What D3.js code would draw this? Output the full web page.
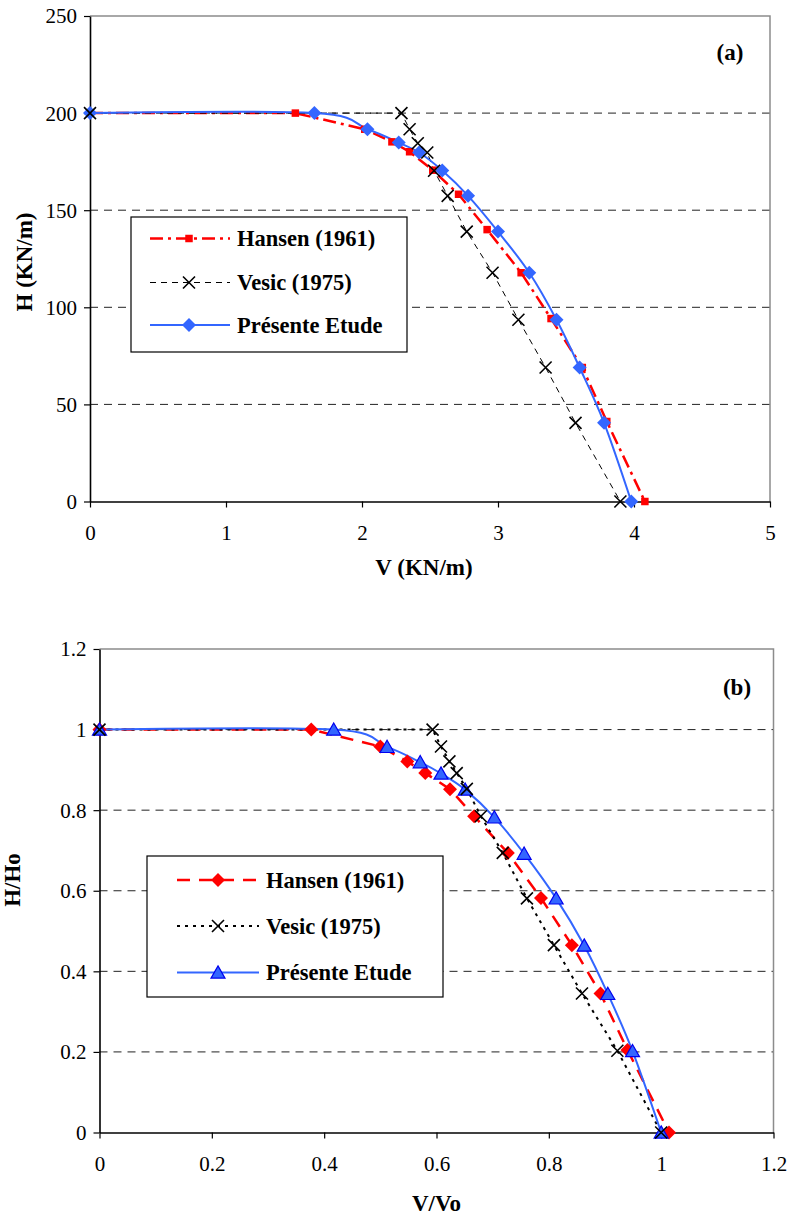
<!DOCTYPE html>
<html><head><meta charset="utf-8">
<script src="https://cdn.jsdelivr.net/npm/d3@7"></script>
<style>body{margin:0;background:#fff}svg{display:block}</style>
</head><body>
<svg id="c" width="793" height="1218"></svg>
<script>
// ---------- Data chart (a) ----------
const hansenA_V  = [0,1.51,2.02,2.22,2.35,2.52,2.71,2.92,3.17,3.39,3.62,3.80,4.08];
const hansenA_H  = [200,200,191.7,185.2,180.1,170.6,158.2,140,117.8,94.2,69,41.2,0];
const vesicA_V   = [0,2.29,2.35,2.41,2.48,2.53,2.63,2.77,2.96,3.15,3.35,3.57,3.90];
const vesicA_H   = [200,200,191.7,184.5,179.7,170.3,157.4,139,117.8,93.6,69,40.5,0];
const presentA_V = [0,1.65,2.04,2.27,2.42,2.59,2.78,3.00,3.23,3.43,3.60,3.78,3.98];
const presentA_H = [200,200,191.7,184.8,179.7,170.4,157.4,139,117.8,93.6,69,40.5,0];
const ticksA_X = [0,1,2,3,4,5];
const ticksA_Y = [0,50,100,150,200,250];

// ---------- Data chart (b) ----------
const hansenB_x  = [0,0.377,0.50,0.548,0.58,0.624,0.667,0.727,0.786,0.841,0.892,0.94,1.014];
const hansenB_y  = [1,1,0.958,0.921,0.892,0.852,0.785,0.694,0.582,0.465,0.345,0.205,0];
const vesicB_x   = [0,0.593,0.608,0.623,0.636,0.654,0.679,0.718,0.761,0.809,0.859,0.922,1.0];
const vesicB_y   = [1,1,0.958,0.921,0.892,0.853,0.785,0.694,0.581,0.465,0.345,0.203,0];
const presentB_x = [0,0.417,0.512,0.571,0.608,0.651,0.703,0.756,0.813,0.863,0.905,0.949,1.0];
const presentB_y = [1,1,0.957,0.919,0.891,0.851,0.782,0.692,0.581,0.464,0.344,0.202,0];
const ticksB_X = [0,0.2,0.4,0.6,0.8,1,1.2];
const ticksB_Y = [0,0.2,0.4,0.6,0.8,1,1.2];

const legendNames = ["Hansen (1961)","Vesic (1975)","Présente Etude"];

const svg = d3.select("#c");
const FONT = "Times New Roman, Liberation Serif, Times, serif";
const RED = "#ff0000", BLUE = "#3366ff", BLACK = "#000";

function zip(xs, ys){ return xs.map((x,i)=>[x, ys[i]]); }

function markerPath(type, s){
  if(type==="square"){ const h=s/2; return `M${-h},${-h}H${h}V${h}H${-h}Z`; }
  if(type==="diamond"){ const h=s/2; return `M0,${-h}L${h},0L0,${h}L${-h},0Z`; }
  if(type==="triangle"){ const h=s/2; return `M0,${-h*0.95}L${h},${h*0.8}L${-h},${h*0.8}Z`; }
  if(type==="x"){ const h=s/2; return `M${-h},${-h}L${h},${h}M${h},${-h}L${-h},${h}`; }
}

function drawMarker(g, type, cx, cy, st){
  g.append("path").attr("transform",`translate(${cx},${cy})`)
   .attr("d", markerPath(type, st.size))
   .attr("fill", type==="x" ? "none" : st.fill)
   .attr("stroke", st.mstroke || "none")
   .attr("stroke-width", st.mwidth || 0);
}

function drawChart(cfg){
  const g = svg.append("g");
  const x = d3.scaleLinear().domain(cfg.xDomain).range(cfg.xRange);
  const y = d3.scaleLinear().domain(cfg.yDomain).range(cfg.yRange);
  const [L,R] = cfg.xRange, [B,T] = cfg.yRange;

  g.selectAll(".grid").data(cfg.yTicks.filter(v=>v>cfg.yDomain[0] && v<cfg.yDomain[1]))
   .enter().append("line")
   .attr("x1",L).attr("x2",R).attr("y1",d=>y(d)).attr("y2",d=>y(d))
   .attr("stroke","#222").attr("stroke-width",1).attr("stroke-dasharray","8,6");

  g.append("path").attr("d",`M${L},${T}H${R}V${B}`).attr("fill","none")
   .attr("stroke","#8c8c8c").attr("stroke-width",1.5);

  const ax = g.append("g").attr("transform",`translate(0,${B})`)
    .call(d3.axisBottom(x).tickValues(cfg.xTicks).tickSize(6).tickSizeOuter(0).tickFormat(d3.format("~g")));
  const ay = g.append("g").attr("transform",`translate(${L},0)`)
    .call(d3.axisLeft(y).tickValues(cfg.yTicks).tickSize(6).tickSizeOuter(0).tickFormat(d3.format("~g")));
  [ax,ay].forEach(a=>{
    a.select(".domain").attr("stroke","#000").attr("stroke-width",1.6);
    a.selectAll(".tick line").attr("stroke","#000").attr("stroke-width",1.2);
    a.selectAll("text").attr("font-family",FONT).attr("font-size",21).attr("fill","#000");
  });
  ax.selectAll("text").attr("dy",null).attr("y",38).attr("dominant-baseline","auto");
  ay.selectAll("text").attr("x",-13).attr("dy","0.33em");

  g.append("text").attr("x",(L+R)/2 + cfg.xTitleDx).attr("y",cfg.xTitleY).attr("text-anchor","middle")
   .attr("font-family",FONT).attr("font-weight","bold").attr("font-size",23).text(cfg.xTitle);
  g.append("text").attr("transform",`translate(${cfg.yTitleX},${cfg.yTitleCy}) rotate(-90)`)
   .attr("text-anchor","middle").attr("font-family",FONT).attr("font-weight","bold")
   .attr("font-size",23).text(cfg.yTitle);

  g.append("text").attr("x",cfg.panelX).attr("y",cfg.panelY).attr("text-anchor","middle")
   .attr("font-family",FONT).attr("font-weight","bold").attr("font-size",23).text(cfg.panel);

  cfg.series.forEach(s=>{
    const line = d3.line().x(d=>x(d[0])).y(d=>y(d[1]))
      .curve(s.smooth ? d3.curveCardinal.tension(0) : d3.curveLinear);
    g.append("path").attr("d", line(s.data)).attr("fill","none")
     .attr("stroke", s.color).attr("stroke-width", s.width)
     .attr("stroke-dasharray", s.dash || null);
  });
  cfg.markerOrder.forEach(i=>{
    const s = cfg.series[i];
    s.data.forEach(d=> drawMarker(g, s.marker, x(d[0]), y(d[1]), s.mstyle));
  });

  const lg = cfg.legend;
  g.append("rect").attr("x",lg.x).attr("y",lg.y).attr("width",lg.w).attr("height",lg.h)
   .attr("fill","#fff").attr("stroke","#000").attr("stroke-width",1.2);
  cfg.series.forEach((s,i)=>{
    const cy = lg.rows[i];
    g.append("line").attr("x1",lg.lx1).attr("x2",lg.lx2).attr("y1",cy).attr("y2",cy)
     .attr("stroke",s.color).attr("stroke-width",s.width).attr("stroke-dasharray",s.dash||null);
    drawMarker(g, s.marker, lg.mx, cy, s.mstyle);
    g.append("text").attr("x",lg.tx).attr("y",cy).attr("dy","0.35em")
     .attr("font-family",FONT).attr("font-weight","bold").attr("font-size",22.5).text(legendNames[i]);
  });
}

drawChart({
  xDomain:[0,5], xRange:[90,770], yDomain:[0,250], yRange:[501.5,16],
  xTicks:ticksA_X, yTicks:ticksA_Y,
  xTitle:"V (KN/m)", xTitleY:575, xTitleDx:-6, yTitle:"H (KN/m)", yTitleX:32, yTitleCy:262,
  panel:"(a)", panelX:730, panelY:60,
  series:[
    {data:zip(hansenA_V,hansenA_H), color:RED, width:2.5, dash:"13,5,3,5", marker:"square",
     mstyle:{size:7.5, fill:RED}},
    {data:zip(vesicA_V,vesicA_H), color:BLACK, width:1, dash:"6,5", marker:"x",
     mstyle:{size:12, mstroke:BLACK, mwidth:1.6}},
    {data:zip(presentA_V,presentA_H), color:BLUE, width:2, smooth:true, marker:"diamond",
     mstyle:{size:14, fill:BLUE}}
  ],
  markerOrder:[0,2,1],
  legend:{x:131,y:217,w:276,h:135, rows:[238.5,282.5,325], lx1:150, lx2:230, mx:189, tx:237}
});

drawChart({
  xDomain:[0,1.2], xRange:[99.5,773.5], yDomain:[0,1.2], yRange:[1132.5,649],
  xTicks:ticksB_X, yTicks:ticksB_Y,
  xTitle:"V/Vo", xTitleY:1211, xTitleDx:0, yTitle:"H/Ho", yTitleX:20, yTitleCy:880,
  panel:"(b)", panelX:737, panelY:695,
  series:[
    {data:zip(hansenB_x,hansenB_y), color:RED, width:2.5, dash:"13,9", marker:"diamond",
     mstyle:{size:14, fill:RED}},
    {data:zip(vesicB_x,vesicB_y), color:BLACK, width:2, dash:"3,5", marker:"x",
     mstyle:{size:12, mstroke:BLACK, mwidth:1.6}},
    {data:zip(presentB_x,presentB_y), color:BLUE, width:2, smooth:true, marker:"triangle",
     mstyle:{size:14, fill:BLUE, mstroke:"#0000ee", mwidth:1.2}}
  ],
  markerOrder:[0,2,1],
  legend:{x:147,y:856,w:296,h:141, rows:[880,926,972.5], lx1:177, lx2:259, mx:218, tx:266}
});
</script>
</body></html>
